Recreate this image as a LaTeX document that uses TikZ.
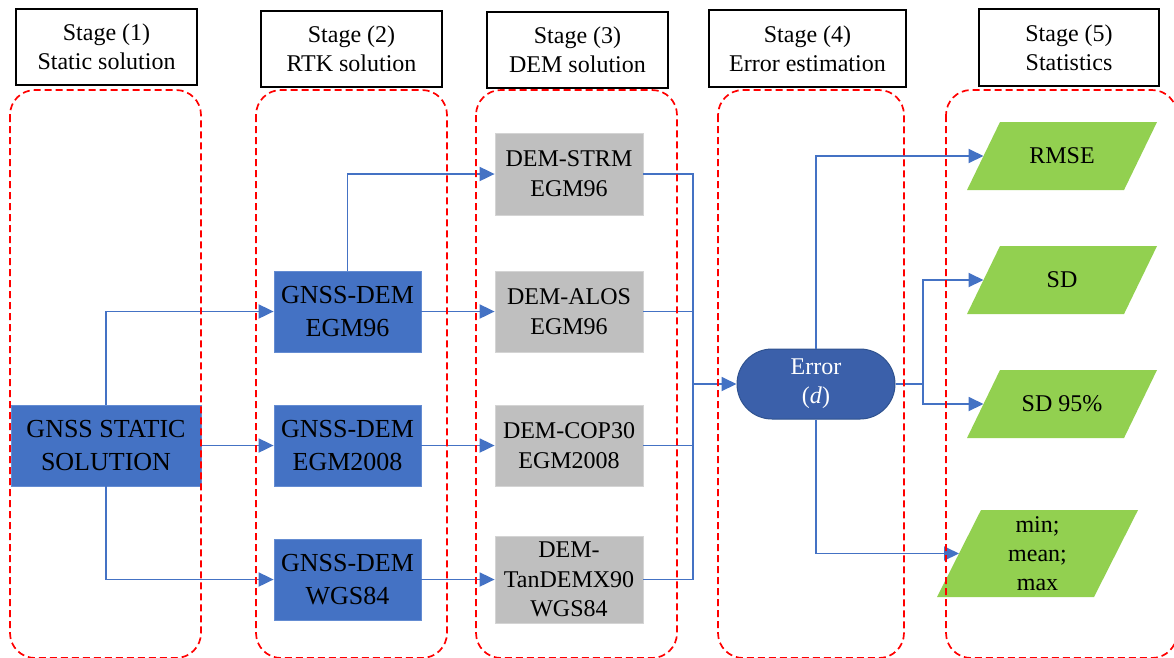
\documentclass[tikz,border=0pt]{standalone}
\usepackage{fontspec}
\setmainfont{Liberation Serif}
\usetikzlibrary{arrows.meta}
\definecolor{boxblue}{RGB}{68,114,196}
\definecolor{boxblueedge}{RGB}{100,140,210}
\definecolor{errblue}{RGB}{59,96,170}
\definecolor{erredge}{RGB}{47,82,143}
\definecolor{dgray}{RGB}{191,191,191}
\definecolor{dgrayedge}{RGB}{212,212,212}
\definecolor{sgreen}{RGB}{146,208,80}
\definecolor{linkblue}{RGB}{68,114,196}
\tikzset{
 hdr/.style={draw=black, line width=1.6pt, inner sep=0pt, align=center, minimum height=76pt, font=\fontsize{24}{29}\selectfont},
 gbox/.style={fill=boxblue, draw=boxblueedge, line width=0.8pt, inner sep=0pt, align=center, minimum width=147pt, minimum height=81pt, font=\fontsize{26}{32.7}\selectfont},
 dbox/.style={fill=dgray, draw=dgrayedge, line width=0.8pt, inner sep=0pt, align=center, minimum width=148pt, minimum height=81pt, font=\fontsize{24}{30}\selectfont},
 stattext/.style={inner sep=0pt, align=center, font=\fontsize{24}{29}\selectfont},
 errnode/.style={fill=errblue, draw=erredge, line width=1pt, rounded corners=35pt, inner sep=0pt, align=center, minimum width=158pt, minimum height=70pt, text=white, font=\fontsize{24}{29}\selectfont},
 link/.style={draw=linkblue, line width=1.9pt},
 arr/.style={link, -{Triangle[length=15pt,width=14pt]}},
 zone/.style={draw=red, line width=1.7pt, dash pattern=on 7pt off 4pt, rounded corners=25pt},
}
% parallelogram: name, cx, cy, half base, half height, half slant, text
\newcommand\paral[7]{%
 \fill[sgreen] ({#2-#4-#6},{#3+#5}) -- ({#2+#4-#6},{#3+#5}) -- ({#2+#4+#6},{#3-#5}) -- ({#2-#4+#6},{#3-#5}) -- cycle;
 \node[stattext] (#1) at (#2,#3) {#7};
 \coordinate (#1L) at ({#2-#4},#3);}
\begin{document}
\begin{tikzpicture}[x=1pt,y=-1pt]
\useasboundingbox[fill=white] (0,0) rectangle (1174,657);
% headers
\node[hdr, minimum width=181pt] (h1) at (106.5,47) {Stage (1)\\Static solution};
\node[hdr, minimum width=181pt] (h2) at (351.5,49) {Stage (2)\\RTK solution};
\node[hdr, minimum width=181pt] (h3) at (577.5,50) {Stage (3)\\DEM solution};
\node[hdr, minimum width=197pt, minimum height=77pt] (h4) at (807.5,48.5) {Stage (4)\\Error estimation};
\node[hdr, minimum width=180pt, minimum height=77pt] (h5) at (1069,47.5) {Stage (5)\\Statistics};
% stage 1
\node[gbox, minimum width=190pt] (static) at (106,445.5) {GNSS STATIC\\SOLUTION};
% stage 2
\node[gbox] (g96) at (347.5,311.5) {GNSS-DEM\\EGM96};
\node[gbox] (g08) at (347.5,445.5) {GNSS-DEM\\EGM2008};
\node[gbox] (gwgs) at (347.5,579.5) {GNSS-DEM\\WGS84};
% stage 3
\node[dbox, minimum height=82pt] (strm) at (569,174) {DEM-STRM\\EGM96};
\node[dbox] (alos) at (569,311.5) {DEM-ALOS\\EGM96};
\node[dbox] (cop) at (569,445.5) {DEM-COP30\\EGM2008};
\node[dbox, minimum height=87pt, font=\fontsize{24}{29.3}\selectfont] (tan) at (569,579.5) {DEM-\\TanDEMX90\\WGS84};
% stage 4
\node[errnode] (err) at (816,384) {Error\\(\textit{d})};
% stage 5
\paral{rmse}{1062}{156}{78.5}{34}{16.5}{RMSE}
\paral{sd}{1062}{280}{78.5}{34}{16.5}{SD}
\paral{sdn}{1062}{404}{78.5}{34}{16.5}{SD 95\%}
\paral{mmm}{1037.5}{553.5}{78.5}{43.5}{22}{min;\\mean;\\max}
% connectors
\draw[arr] (static.north) |- (g96.west);
\draw[arr] (static.east) -- (g08.west);
\draw[arr] (static.south) |- (gwgs.west);
\draw[arr] (g96.north) |- (strm.west);
\draw[arr] (g96.east) -- (alos.west);
\draw[arr] (g08.east) -- (cop.west);
\draw[arr] (gwgs.east) -- (tan.west);
\coordinate (bus) at (693,384);
\draw[link] (strm.east) -| (bus);
\draw[link] (alos.east) -| (bus);
\draw[link] (cop.east) -| (bus);
\draw[link] (tan.east) -| (bus);
\draw[arr] (bus) -- (err.west);
\draw[arr] (err.north) |- (rmseL);
\coordinate (br) at (923,384);
\draw[link] (err.east) -- (br);
\draw[arr] (br) |- (sdL);
\draw[arr] (br) |- (sdnL);
\draw[arr] (err.south) |- (mmmL);
% stage zones
\draw[zone] (10,90) rectangle (201,658);
\draw[zone] (256,90) rectangle (447,658);
\draw[zone] (476,90) rectangle (677,658);
\draw[zone] (718,90) rectangle (904,658);
\draw[zone] (946,90) rectangle (1177,658);
\end{tikzpicture}
\end{document}
